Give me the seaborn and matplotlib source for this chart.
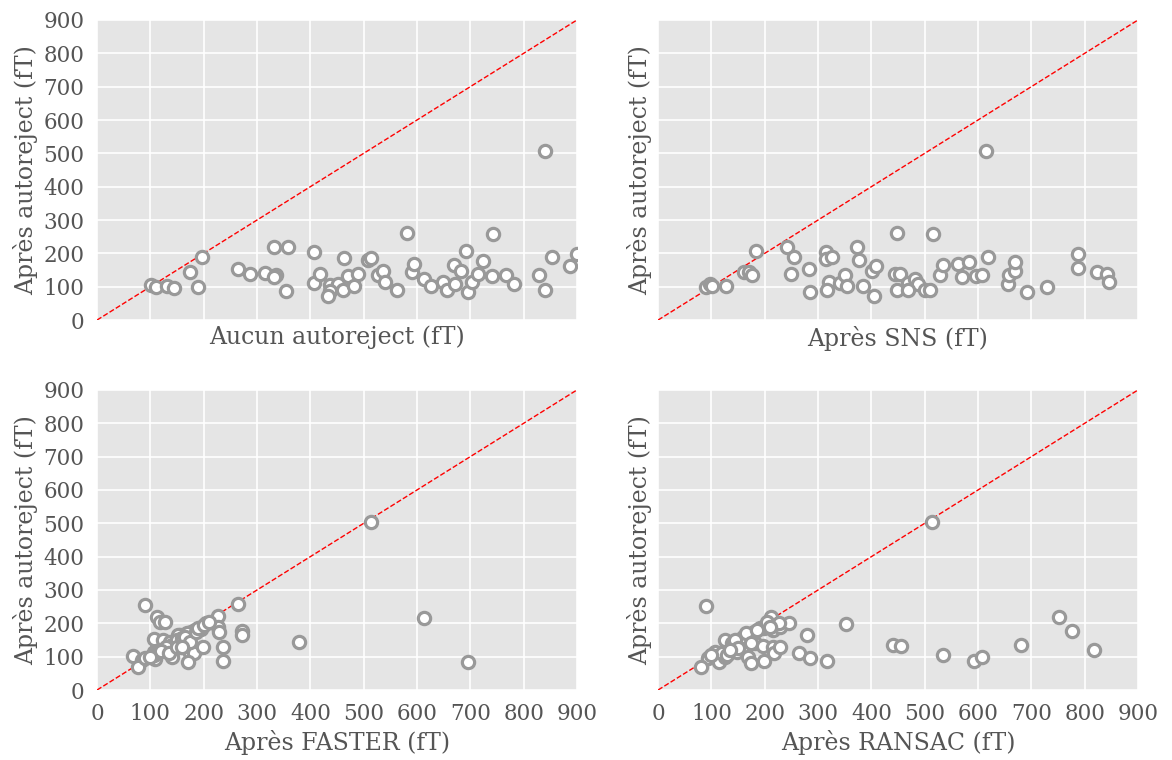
import matplotlib
matplotlib.use("Agg")
import matplotlib.pyplot as plt
import seaborn as sns

# Aucun autoreject vs Après autoreject
none_x = [102, 111, 132, 145, 174, 189, 196, 264, 286, 315, 332, 336, 331, 359, 354,
          406, 406, 419, 437, 452, 436, 434, 462, 464, 471, 482, 490, 509, 514, 527,
          537, 540, 562, 581, 590, 594, 614, 626, 648, 657, 671, 670, 682, 692, 695,
          704, 714, 723, 740, 743, 766, 782, 829, 840, 840, 854, 886, 900]
none_y = [105, 98, 103, 96, 143, 100, 190, 152, 138, 142, 220, 135, 130, 219, 88,
          205, 112, 139, 104, 109, 87, 73, 90, 187, 132, 102, 137, 180, 185, 135,
          147, 113, 90, 262, 143, 168, 124, 103, 114, 90, 109, 166, 147, 207, 85,
          115, 138, 177, 133, 257, 135, 107, 135, 90, 506, 189, 162, 198]

# Après SNS
sns_x = [90, 97, 102, 127, 162, 171, 176, 184, 241, 254, 249, 283, 285, 315, 315,
         326, 321, 316, 342, 351, 354, 373, 377, 385, 401, 409, 405, 448, 444, 454,
         448, 469, 482, 488, 469, 501, 509, 515, 529, 534, 563, 569, 583, 596, 608,
         615, 618, 657, 659, 669, 669, 692, 730, 788, 788, 824, 841, 845]
sns_y = [98, 107, 101, 103, 143, 143, 134, 207, 220, 190, 139, 152, 85, 205, 184,
         188, 115, 89, 111, 134, 103, 220, 179, 103, 147, 162, 72, 262, 139, 138,
         90, 112, 123, 109, 89, 90, 90, 257, 135, 166, 168, 130, 175, 132, 135,
         506, 189, 109, 135, 147, 175, 85, 100, 198, 157, 143, 138, 114]

# Après FASTER
faster_x = [90, 112, 118, 127, 265, 226, 226, 229, 271, 272, 514, 614, 695, 379, 236,
            237, 204, 195, 184, 177, 168, 156, 152, 107, 124, 137, 152, 162, 129, 140,
            106, 115, 68, 84, 76, 90, 109, 106, 141, 174, 182, 198, 170, 145, 150,
            160, 165, 175, 185, 190, 200, 210, 130, 120, 135, 150, 160, 100]
faster_y = [255, 218, 203, 203, 258, 222, 190, 173, 178, 165, 503, 216, 85, 145, 130,
            88, 202, 183, 180, 175, 170, 165, 165, 152, 150, 145, 148, 140, 120, 135,
            115, 115, 102, 90, 68, 95, 92, 105, 100, 110, 110, 130, 83, 135, 150,
            155, 160, 145, 175, 185, 195, 205, 130, 118, 112, 128, 130, 100]

# Après RANSAC
ransac_x = [90, 352, 279, 265, 285, 317, 211, 216, 229, 246, 227, 199, 191, 179, 172,
            151, 156, 126, 138, 148, 163, 182, 197, 216, 218, 229, 169, 174, 199, 106,
            93, 110, 115, 126, 80, 440, 455, 534, 593, 608, 681, 752, 776, 818, 514,
            160, 165, 185, 205, 140, 145, 120, 130, 150, 175, 100, 135, 210]
ransac_y = [253, 197, 165, 112, 97, 87, 218, 180, 190, 202, 200, 185, 185, 175, 165,
            150, 145, 150, 140, 115, 125, 142, 132, 128, 110, 128, 100, 82, 88, 115,
            95, 100, 83, 98, 70, 136, 132, 104, 87, 100, 136, 220, 177, 120, 503,
            160, 170, 180, 205, 135, 150, 110, 105, 125, 140, 105, 120, 190]

panels = [
    (none_x, none_y, "Aucun autoreject (fT)"),
    (sns_x, sns_y, "Après SNS (fT)"),
    (faster_x, faster_y, "Après FASTER (fT)"),
    (ransac_x, ransac_y, "Après RANSAC (fT)"),
]
ticks = list(range(0, 1000, 100))

sns.set_style("darkgrid", {"axes.facecolor": "#E5E5E5", "grid.color": "white"})
plt.rcParams["font.family"] = ["DejaVu Serif"]
plt.rcParams["text.color"] = "#555555"

fig, axes = plt.subplots(2, 2, figsize=(11.72, 7.6), dpi=100)
fig.subplots_adjust(left=0.0828, right=0.971, top=0.9737, bottom=0.0921,
                    wspace=0.169, hspace=0.233)

for ax, (xs, ys, label) in zip(axes.flat, panels):
    ax.plot([0, 900], [0, 900], color="red", linestyle="--", linewidth=1, zorder=2)
    sns.scatterplot(x=xs, y=ys, ax=ax, s=78, facecolor="white",
                    edgecolor="#999999", linewidth=2.3, zorder=3)
    ax.set_xlim(0, 900)
    ax.set_ylim(0, 900)
    ax.set_xticks(ticks)
    ax.set_yticks(ticks)
    ax.set_xlabel(label, fontsize=17, color="#555555", labelpad=4)
    ax.set_ylabel("Après autoreject (fT)", fontsize=17, color="#555555", labelpad=4)
    ax.tick_params(length=0, labelsize=15.5, labelcolor="#555555", pad=9)
    ax.grid(True, color="white", linewidth=1.2)
    for sp in ax.spines.values():
        sp.set_visible(False)

for ax in axes[0]:
    ax.tick_params(labelbottom=False)
for ax in axes[:, 1]:
    ax.tick_params(labelleft=False)

fig.savefig("out.png", dpi=100)
